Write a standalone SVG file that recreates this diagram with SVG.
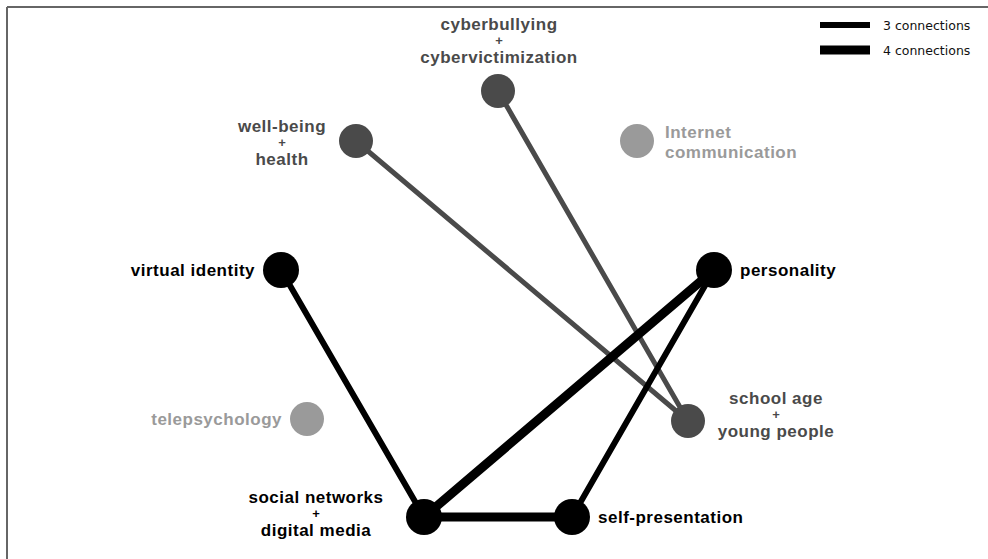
<svg xmlns="http://www.w3.org/2000/svg" width="988" height="559" viewBox="0 0 988 559">
<style>
.lbl{font-family:"Liberation Sans",Arial,sans-serif;font-weight:bold;font-size:17px;letter-spacing:0.5px}
.pl{font-family:"Liberation Sans",Arial,sans-serif;font-weight:bold;font-size:13px}
.blk{fill:#000}
.dk{fill:#4a4a4a}
.lt{fill:#9a9a9a}
.leg{font-family:"DejaVu Sans",sans-serif;font-size:12.5px;fill:#111}
.e3{stroke:#000;stroke-width:6;stroke-linecap:round}
.e4{stroke:#000;stroke-width:9;stroke-linecap:round}
.eg{stroke:#4a4a4a;stroke-width:5;stroke-linecap:round}
</style>
<rect width="988" height="559" fill="#fff"/>
<line x1="7" y1="7" x2="988" y2="7" stroke="#333" stroke-width="1.5"/>
<line x1="7" y1="7" x2="7" y2="559" stroke="#666" stroke-width="2"/>
<g id="legend">
<line x1="820" y1="25" x2="870" y2="25" stroke="#000" stroke-width="6"/>
<text class="leg" x="883" y="30">3 connections</text>
<line x1="820" y1="50" x2="870" y2="50" stroke="#000" stroke-width="9"/>
<text class="leg" x="883" y="55">4 connections</text>
</g>
<g id="connectors">
<line class="eg" x1="356" y1="141" x2="688" y2="421"/>
<line class="eg" x1="498" y1="91" x2="688" y2="421"/>
<line class="e3" x1="281" y1="270" x2="424" y2="517"/>
<line class="e4" x1="714" y1="270" x2="424" y2="517"/>
<line class="e3" x1="714" y1="270" x2="572" y2="517"/>
<line class="e4" x1="424" y1="517" x2="572" y2="517"/>
</g>
<g id="cyberbullying">
<circle class="dk" cx="498" cy="91" r="17"/>
<text class="lbl dk" text-anchor="middle" x="499" y="30">cyberbullying</text>
<text class="pl dk" text-anchor="middle" x="499" y="45">+</text>
<text class="lbl dk" text-anchor="middle" x="499" y="63">cybervictimization</text>
</g>
<g id="well-being">
<circle class="dk" cx="356" cy="141" r="17"/>
<text class="lbl dk" text-anchor="middle" x="282" y="132">well-being</text>
<text class="pl dk" text-anchor="middle" x="282" y="147">+</text>
<text class="lbl dk" text-anchor="middle" x="282" y="165">health</text>
</g>
<g id="internet">
<circle class="lt" cx="637" cy="141" r="17"/>
<text class="lbl lt" x="665" y="138">Internet</text>
<text class="lbl lt" x="665" y="158">communication</text>
</g>
<g id="virtual-identity">
<circle class="blk" cx="281" cy="270" r="18"/>
<text class="lbl blk" text-anchor="end" x="255" y="276">virtual identity</text>
</g>
<g id="personality">
<circle class="blk" cx="714" cy="270" r="18"/>
<text class="lbl blk" x="740" y="276">personality</text>
</g>
<g id="telepsychology">
<circle class="lt" cx="307" cy="419" r="17"/>
<text class="lbl lt" text-anchor="end" x="282" y="425">telepsychology</text>
</g>
<g id="school-age">
<circle class="dk" cx="688" cy="421" r="17"/>
<text class="lbl dk" text-anchor="middle" x="776" y="404">school age</text>
<text class="pl dk" text-anchor="middle" x="776" y="419">+</text>
<text class="lbl dk" text-anchor="middle" x="776" y="437">young people</text>
</g>
<g id="social-networks">
<circle class="blk" cx="424" cy="517" r="18"/>
<text class="lbl blk" text-anchor="middle" x="316" y="503">social networks</text>
<text class="pl blk" text-anchor="middle" x="316" y="518">+</text>
<text class="lbl blk" text-anchor="middle" x="316" y="536">digital media</text>
</g>
<g id="self-presentation">
<circle class="blk" cx="572" cy="517" r="18"/>
<text class="lbl blk" x="598" y="523">self-presentation</text>
</g>
</svg>
